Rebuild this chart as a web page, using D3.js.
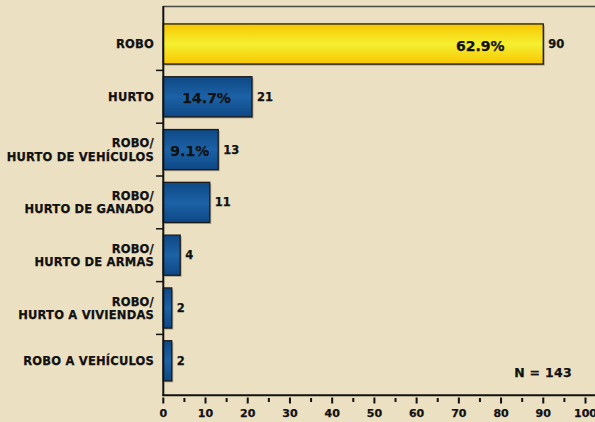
<!DOCTYPE html>
<html><head><meta charset="utf-8">
<script src="https://cdn.jsdelivr.net/npm/d3@7"></script>
<style>
html,body{margin:0;padding:0;background:#ECE0C3;}
svg{display:block;}
text{font-family:"DejaVu Sans",Verdana,sans-serif;font-weight:bold;fill:#111;stroke:#111;stroke-width:0.25px;}
</style></head><body>
<script>
const categories = [["ROBO"],["HURTO"],["ROBO/","HURTO DE VEHÍCULOS"],["ROBO/","HURTO DE GANADO"],["ROBO/","HURTO DE ARMAS"],["ROBO/","HURTO A VIVIENDAS"],["ROBO A VEHÍCULOS"]];
const values = [90, 21, 13, 11, 4, 2, 2];
const percents = ["62.9%", "14.7%", "9.1%", null, null, null, null];
const xTicks = [0,10,20,30,40,50,60,70,80,90,100];
const xMinorTicks = [5,15,25,35,45,55,65,75,85,95];
const total = "N = 143";

const W = 595, H = 422;
const svg = d3.select("body").append("svg").attr("width", W).attr("height", H);
const defs = svg.append("defs");
function grad(id, edge, mid){
  const g = defs.append("linearGradient").attr("id", id).attr("x1",0).attr("y1",0).attr("x2",0).attr("y2",1);
  g.append("stop").attr("offset","0%").attr("stop-color", edge);
  g.append("stop").attr("offset","50%").attr("stop-color", mid);
  g.append("stop").attr("offset","100%").attr("stop-color", edge);
}
grad("gBlue", "#0E4885", "#1C62A6");
grad("gYellow", "#F8C500", "#F4F030");

svg.append("rect").attr("width", W).attr("height", H).attr("fill", "#ECE0C3");

const x = d3.scaleLinear().domain([0,100]).range([163.3, 585.5]);
const idx = d3.range(categories.length);
const y = d3.scaleBand().domain(idx).range([17.6, 387.2]).paddingInner(0.24).paddingOuter(0.12);

// top border
svg.append("line").attr("x1", x(0)).attr("x2", W+5).attr("y1", 6.5).attr("y2", 6.5)
  .attr("stroke", "#4a4a44").attr("stroke-width", 1.6);

// bars shadow
svg.selectAll("rect.shadow").data(idx).join("rect").attr("class","shadow")
  .attr("x", x(0)+1.5).attr("y", i => y(i)+1.5)
  .attr("width", i => x(values[i]) - x(0)).attr("height", y.bandwidth())
  .attr("fill", "#a9a08c");
svg.selectAll("rect.bar").data(idx).join("rect").attr("class","bar")
  .attr("x", x(0)).attr("y", i => y(i))
  .attr("width", i => x(values[i]) - x(0)).attr("height", y.bandwidth())
  .attr("fill", i => i === 0 ? "url(#gYellow)" : "url(#gBlue)")
  .attr("stroke", "#1a1a1a").attr("stroke-width", 1.3);

// value labels
svg.selectAll("text.val").data(idx).join("text").attr("class","val")
  .attr("x", i => x(values[i]) + 5).attr("y", i => y(i) + y.bandwidth()/2 + 4)
  .attr("font-size", 11.5).text(i => values[i]);

// percent labels
svg.selectAll("text.pct").data(idx.filter(i => percents[i])).join("text").attr("class","pct")
  .attr("text-anchor","middle")
  .attr("x", i => i === 0 ? x(values[i]) - 63 : (x(0) + x(values[i]))/2 - 1)
  .attr("y", i => y(i) + y.bandwidth()/2 + 6.5)
  .attr("font-size", 14).text(i => percents[i]);

// category labels
const cl = svg.selectAll("text.cat").data(idx).join("text").attr("class","cat")
  .attr("text-anchor","end").attr("font-size", 11.5).attr("letter-spacing", 0.2)
  .attr("y", i => y(i) + y.bandwidth()/2 + 4.2 - (categories[i].length - 1) * 6.6);
cl.selectAll("tspan").data(i => categories[i]).join("tspan")
  .attr("x", 154).attr("dy", (d, j) => j === 0 ? 0 : 13.3).text(d => d);

// left axis
svg.append("line").attr("x1", x(0)).attr("x2", x(0)).attr("y1", 6).attr("y2", 396)
  .attr("stroke", "#111").attr("stroke-width", 2);
const step = y.step();
svg.selectAll("line.ytick").data(idx.slice(0, -1)).join("line").attr("class","ytick")
  .attr("x1", 156).attr("x2", x(0))
  .attr("y1", i => y(i) + y.bandwidth() + step*0.12).attr("y2", i => y(i) + y.bandwidth() + step*0.12)
  .attr("stroke", "#111").attr("stroke-width", 1.5);

// bottom axis
svg.append("line").attr("x1", x(0)-1).attr("x2", W+5).attr("y1", 395.3).attr("y2", 395.3)
  .attr("stroke", "#111").attr("stroke-width", 2);
svg.selectAll("line.xmaj").data(xTicks).join("line").attr("class","xmaj")
  .attr("x1", d => x(d)).attr("x2", d => x(d)).attr("y1", 397.5).attr("y2", 403.5)
  .attr("stroke", "#111").attr("stroke-width", 2);
svg.selectAll("line.xmin").data(xMinorTicks).join("line").attr("class","xmin")
  .attr("x1", d => x(d)).attr("x2", d => x(d)).attr("y1", 398).attr("y2", 402)
  .attr("stroke", "#111").attr("stroke-width", 2);
svg.selectAll("text.xl").data(xTicks).join("text").attr("class","xl")
  .attr("text-anchor","middle").attr("x", d => x(d)).attr("y", 416.7)
  .attr("font-size", 11).text(d => d);

svg.append("text").attr("x", 572).attr("y", 377).attr("text-anchor","end")
  .attr("font-size", 12.5).attr("letter-spacing", 0.3).text(total);
</script>
</body></html>
